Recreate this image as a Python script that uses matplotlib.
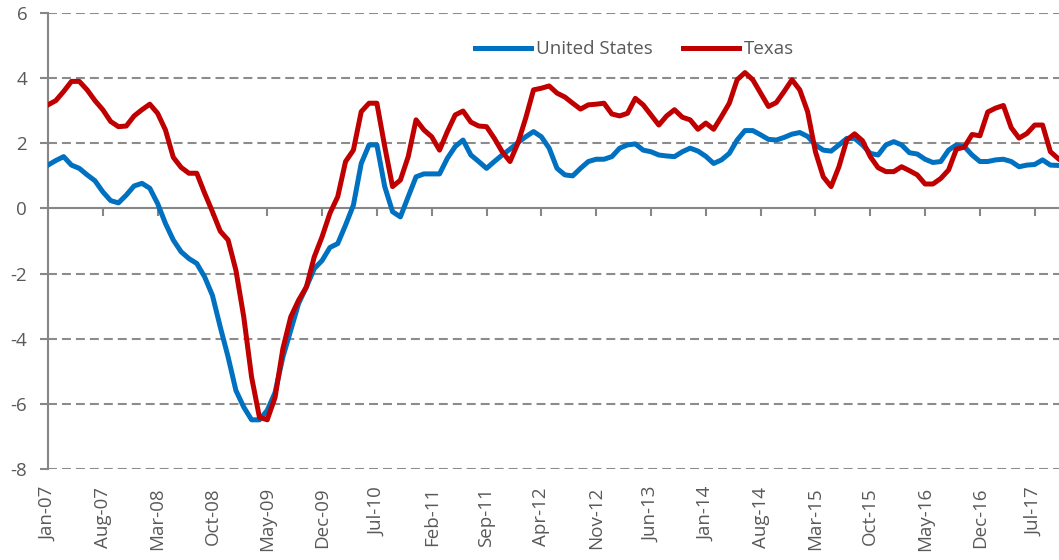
import matplotlib.pyplot as plt
import numpy as np

plt.rcParams["font.family"] = ["Open Sans", "DejaVu Sans"]
plt.rcParams["axes.unicode_minus"] = False

# monthly year-over-year growth, Jan-07 .. Oct-17
us_values = [
    1.33, 1.47, 1.59, 1.33, 1.23, 1.03, 0.85, 0.51, 0.24, 0.17,
    0.41, 0.69, 0.77, 0.62, 0.15, -0.46, -0.97, -1.33, -1.54, -1.69,
    -2.10, -2.67, -3.64, -4.56, -5.59, -6.10, -6.49, -6.49, -6.20, -5.65,
    -4.56, -3.74, -2.92, -2.41, -1.85, -1.60, -1.20, -1.08, -0.51, 0.10,
    1.38, 1.95, 1.95, 0.67, -0.10, -0.26, 0.36, 0.97, 1.06, 1.06,
    1.06, 1.54, 1.90, 2.10, 1.64, 1.44, 1.23, 1.44, 1.64, 1.82,
    2.02, 2.20, 2.36, 2.20, 1.85, 1.23, 1.03, 1.00, 1.23, 1.44,
    1.51, 1.51, 1.59, 1.85, 1.95, 1.98, 1.79, 1.74, 1.64, 1.61,
    1.59, 1.74, 1.85, 1.76, 1.60, 1.38, 1.49, 1.69, 2.10, 2.39,
    2.39, 2.26, 2.12, 2.10, 2.18, 2.28, 2.33, 2.21, 1.95, 1.79,
    1.76, 1.95, 2.15, 2.15, 1.95, 1.69, 1.64, 1.95, 2.05, 1.95,
    1.71, 1.67, 1.51, 1.41, 1.44, 1.79, 1.95, 1.90, 1.64, 1.44,
    1.44, 1.49, 1.51, 1.44, 1.28, 1.33, 1.35, 1.49, 1.33, 1.32,
]
texas_values = [
    3.18, 3.31, 3.59, 3.90, 3.90, 3.64, 3.31, 3.03, 2.67, 2.51,
    2.53, 2.84, 3.03, 3.20, 2.92, 2.41, 1.57, 1.26, 1.08, 1.08,
    0.47, -0.10, -0.70, -0.97, -1.90, -3.33, -5.18, -6.41, -6.49, -5.80,
    -4.30, -3.33, -2.82, -2.41, -1.49, -0.87, -0.15, 0.36, 1.44, 1.79,
    2.97, 3.23, 3.23, 1.90, 0.67, 0.87, 1.59, 2.72, 2.41, 2.20,
    1.79, 2.36, 2.87, 2.99, 2.65, 2.53, 2.51, 2.15, 1.74, 1.44,
    2.00, 2.77, 3.64, 3.69, 3.76, 3.54, 3.42, 3.23, 3.05, 3.18,
    3.20, 3.23, 2.90, 2.84, 2.92, 3.38, 3.18, 2.87, 2.56, 2.84,
    3.03, 2.80, 2.72, 2.43, 2.62, 2.43, 2.82, 3.23, 3.95, 4.17,
    3.95, 3.54, 3.13, 3.25, 3.59, 3.95, 3.64, 2.97, 1.74, 0.97,
    0.67, 1.28, 2.10, 2.29, 2.08, 1.59, 1.25, 1.13, 1.13, 1.28,
    1.16, 1.03, 0.75, 0.75, 0.92, 1.18, 1.82, 1.88, 2.27, 2.23,
    2.96, 3.08, 3.16, 2.48, 2.16, 2.30, 2.56, 2.56, 1.74, 1.53,
]
tick_labels = [
    "Jan-07", "Aug-07", "Mar-08", "Oct-08", "May-09", "Dec-09", "Jul-10",
    "Feb-11", "Sep-11", "Apr-12", "Nov-12", "Jun-13", "Jan-14", "Aug-14",
    "Mar-15", "Oct-15", "May-16", "Dec-16", "Jul-17",
]
y_ticks = [-8, -6, -4, -2, 0, 2, 4, 6]

months = np.arange(len(us_values))
tick_pos = np.arange(len(tick_labels)) * 7

text_color = "#595959"
axis_color = "#868686"
grid_color = "#8c8c8c"

fig = plt.figure(figsize=(10.59, 5.6), dpi=100)
ax = fig.add_axes([0.0453, 0.1625, 0.9547, 0.8143])

ax.set_xlim(0, 129.1)
ax.set_ylim(-8, 6)

# dashed horizontal grid
for v in y_ticks:
    if v != 0:
        ax.axhline(v, color=grid_color, lw=1.5, ls=(0, (4.3, 2.4)), zorder=1)

# category axis crosses at zero, tick marks hang below it
ax.axhline(0, color=axis_color, lw=1.5, zorder=2)
ax.plot(tick_pos, np.zeros(len(tick_pos)), ls="none", marker=3,
        markersize=5.5, markeredgewidth=1.5, color=axis_color, zorder=2)

ax.plot(months, us_values, color="#0070C0", lw=3.6, label="United States",
        solid_joinstyle="round", zorder=3)
ax.plot(months, texas_values, color="#C00000", lw=3.6, label="Texas",
        solid_joinstyle="round", zorder=4)

for side in ["top", "right", "bottom"]:
    ax.spines[side].set_visible(False)
ax.spines["left"].set_color(axis_color)
ax.spines["left"].set_linewidth(1.5)

ax.set_yticks(y_ticks)
ax.tick_params(axis="y", colors=axis_color, labelcolor=text_color,
               length=6, width=1.5, labelsize=13.5, pad=9)

# month labels sit below the plot area
ax.set_xticks(tick_pos)
ax.set_xticklabels(tick_labels, rotation=90, va="top", ha="center")
ax.tick_params(axis="x", length=0, labelsize=13.5, labelcolor=text_color, pad=13)

ax.legend(loc="center", bbox_to_anchor=(0.58, 0.92), ncol=2, frameon=False,
          fontsize=13.5, labelcolor=text_color, handlelength=3.0,
          handletextpad=0.25, columnspacing=1.6)

fig.savefig("out.png", dpi=100)
